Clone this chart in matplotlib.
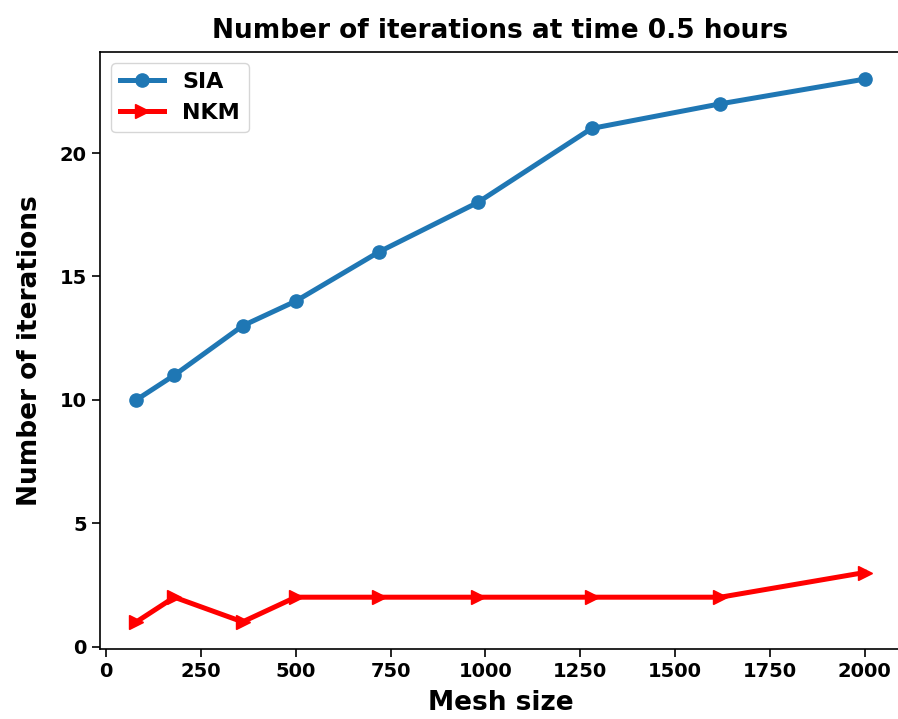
import matplotlib
matplotlib.use("Agg")
import matplotlib.pyplot as plt

mesh_sizes = [80, 180, 360, 500, 720, 980, 1280, 1620, 2000]
sia_iterations = [10, 11, 13, 14, 16, 18, 21, 22, 23]
nkm_iterations = [1, 2, 1, 2, 2, 2, 2, 2, 3]

fig = plt.figure(figsize=(8.98, 7.19), dpi=100)
ax = fig.add_axes([100 / 898, 1 - 649 / 719, 801 / 898, 597 / 719])

ax.plot(mesh_sizes, sia_iterations, marker="o", color="#1f77b4", linewidth=3.6, markersize=9.5, label="SIA")
ax.plot(mesh_sizes, nkm_iterations, marker=">", color="red", linewidth=3.6, markersize=9.5, label="NKM")

ax.set_title("Number of iterations at time 0.5 hours", fontsize=19, fontweight="bold", pad=10)
ax.set_xlabel("Mesh size", fontsize=19, fontweight="bold", labelpad=6)
ax.set_ylabel("Number of iterations", fontsize=19, fontweight="bold", labelpad=12)
for lab in ax.get_xticklabels() + ax.get_yticklabels():
    lab.set_fontweight("bold")
ax.tick_params(labelsize=14, length=6, width=1.2)
for sp in ax.spines.values():
    sp.set_linewidth(1.2)
ax.legend(loc="upper left", prop={"weight": "bold", "size": 16})

fig.savefig("out.png", dpi=100)
